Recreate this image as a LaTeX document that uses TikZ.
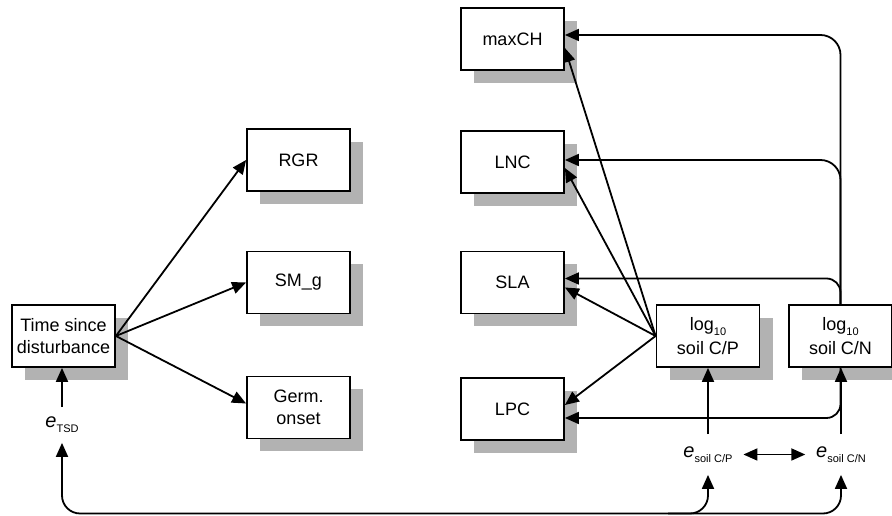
\documentclass[tikz,border=0pt]{standalone}
\usepackage{fontspec}
\setmainfont{Liberation Sans}
\usetikzlibrary{positioning, arrows.meta, calc, shadows}
\newcommand{\lowtext}[1]{\raisebox{-5pt}{\fontsize{11}{12}\selectfont #1}}

\begin{document}
\begin{tikzpicture}[x=1pt, y=1pt, line width=1.8pt,
    every node/.style={font=\fontsize{18}{22}\selectfont},
    box/.style={draw, fill=white, minimum width=103pt, minimum height=62pt, inner sep=0pt, align=center,
        drop shadow={shadow xshift=13pt, shadow yshift=-13pt, fill=gray!60, opacity=1}},
    err/.style={inner xsep=10pt, inner ysep=0pt},
    arr/.style={-{Triangle[length=14pt, width=12pt]}},
    darr/.style={{Triangle[length=14pt, width=12pt]}-{Triangle[length=14pt, width=12pt]}}]
    \useasboundingbox (0,0) rectangle (892,516);

    \node[box] (maxCH) at (512.5,477) {maxCH};
    \node[box] (LNC) at (512.5,354) {LNC};
    \node[box] (SLA) at (512.5,233.5) {SLA};
    \node[box] (LPC) at (512.5,107) {LPC};
    \node[box] (RGR) at (298.5,356) {RGR};
    \node[box] (SMg) at (298.5,233.5) {SM\_g};
    \node[box] (germ) at (298.5,108.5) {Germ.\\onset};
    \node[box] (tsd) at (63.5,180) {Time since\\disturbance};
    \node[box] (cp) at (708,180) {log\lowtext{10}\\[2pt]soil C/P};
    \node[box] (cn) at (840.5,180) {log\lowtext{10}\\[2pt]soil C/N};

    \node[err, minimum height=34pt] (etsd) at (62,91) {{\fontsize{20}{22}\selectfont\textit{e}}\lowtext{TSD}};
    \node[err, minimum height=39pt] (ecp) at (708,61.5) {{\fontsize{20}{22}\selectfont\textit{e}}\lowtext{soil C/P}};
    \node[err, minimum height=39pt] (ecn) at (841,61.5) {{\fontsize{20}{22}\selectfont\textit{e}}\lowtext{soil C/N}};
    \coordinate (bot) at (0,2.5);

    \draw[arr] (tsd.east) -- (RGR.west);
    \draw[arr] (tsd.east) -- (SMg.west);
    \draw[arr] (tsd.east) -- ([yshift=4pt]germ.west);

    \draw[arr] (cp.west) -- ([yshift=-9pt]maxCH.east);
    \draw[arr] (cp.west) -- ([yshift=-6pt]LNC.east);
    \draw[arr] (cp.west) -- ([yshift=-5pt]SLA.east);
    \draw[arr] (cp.west) -- ([yshift=4pt]LPC.east);

    \draw[arr, rounded corners=20pt] (cn.north) |- ([yshift=4pt]maxCH.east);
    \draw[arr, rounded corners=20pt] (cn.north) |- ([yshift=2pt]LNC.east);
    \draw[arr, rounded corners=14pt] (cn.north) |- ([yshift=4pt]SLA.east);
    \draw[arr, rounded corners=14pt] (cn.south) |- ([yshift=-9pt]LPC.east);

    \draw[arr] (etsd.north) -- (etsd.north |- tsd.south);
    \draw[arr] (ecp.north) -- (cp.south);
    \draw[arr] (ecn.north) -- (ecn.north |- cn.south);
    \draw[darr] (ecp.east) -- (ecn.west);

    \draw[darr, rounded corners=18pt] (etsd.south) -- (etsd.south |- bot) -- (ecn.south |- bot) -- (ecn.south);
    \draw[arr, rounded corners=18pt] ($(ecp.south |- bot)+(-40,0)$) -- (ecp.south |- bot) -- (ecp.south);
\end{tikzpicture}
\end{document}
